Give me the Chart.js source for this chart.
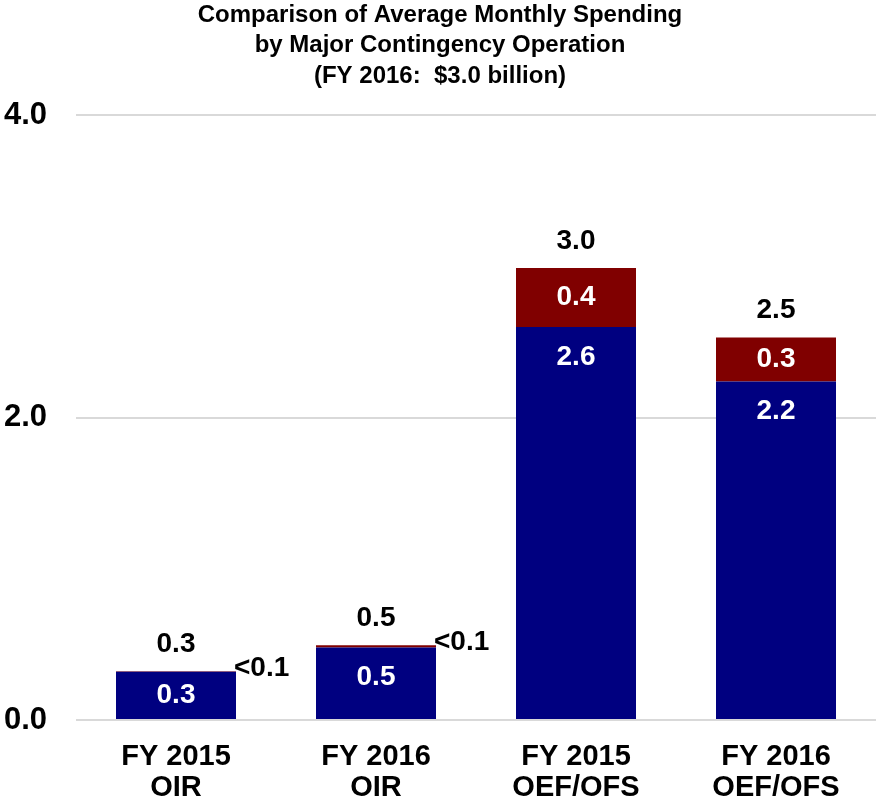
<!DOCTYPE html>
<html>
<head>
<meta charset="utf-8">
<script src="https://cdn.jsdelivr.net/npm/chart.js@4"></script>
<style>
  html, body { margin: 0; padding: 0; background: #fff; }
  #wrap { width: 876px; height: 802px; }
</style>
</head>
<body>
<div id="wrap"><canvas id="spendChart"></canvas></div>
<script>
const categories = [['FY 2015', 'OIR'], ['FY 2016', 'OIR'], ['FY 2015', 'OEF/OFS'], ['FY 2016', 'OEF/OFS']];
const baseValues = [0.32, 0.48, 2.60, 2.24];
const topValues = [0.002, 0.015, 0.39, 0.29];
const baseLabels = ['0.3', '0.5', '2.6', '2.2'];
const topLabels = ['<0.1', '<0.1', '0.4', '0.3'];
const totalLabels = ['0.3', '0.5', '3.0', '2.5'];
const titleLines = ['Comparison of Average Monthly Spending', 'by Major Contingency Operation', '(FY 2016:  $3.0 billion)'];

const FONT = '"Liberation Sans", Arial, sans-serif';

// draws the numbers on and above the bars
const barLabels = {
  id: 'barLabels',
  afterDatasetsDraw(chart) {
    const ctx = chart.ctx;
    const baseMeta = chart.getDatasetMeta(0);
    const topMeta = chart.getDatasetMeta(1);
    ctx.save();
    ctx.font = 'bold 28px ' + FONT;
    ctx.textBaseline = 'middle';
    baseMeta.data.forEach((bar, i) => {
      const seg = topMeta.data[i];
      ctx.textAlign = 'center';
      ctx.fillStyle = '#fff';
      ctx.fillText(baseLabels[i], bar.x, Math.min((bar.y + bar.base) / 2, bar.y + 30));
      const h = seg.base - seg.y;
      if (h > 25) {
        ctx.fillText(topLabels[i], seg.x, (seg.y + seg.base) / 2);
      } else {
        ctx.fillStyle = '#000';
        ctx.textAlign = 'left';
        ctx.fillText(topLabels[i], bar.x + bar.width / 2 - 2, seg.y - 3);
      }
      ctx.fillStyle = '#000';
      ctx.textAlign = 'center';
      ctx.fillText(totalLabels[i], bar.x, seg.y - 27);
    });
    ctx.restore();
  }
};

const ctx = document.getElementById('spendChart').getContext('2d');
const chart = new Chart(ctx, {
  type: 'bar',
  data: {
    labels: categories,
    datasets: [
      { data: baseValues, backgroundColor: '#000080', borderWidth: 0 },
      { data: topValues, backgroundColor: '#800000', borderWidth: 0 }
    ]
  },
  options: {
    responsive: true,
    maintainAspectRatio: false,
    animation: false,
    layout: { padding: { left: 4, right: 0, top: 0, bottom: 0 } },
    datasets: { bar: { categoryPercentage: 1, barPercentage: 0.6 } },
    scales: {
      x: {
        stacked: true,
        afterFit(scale) { scale.height = 82; },
        grid: { display: false, drawTicks: false },
        border: { display: false },
        ticks: {
          color: '#000',
          font: { family: FONT, size: 29, weight: 'bold', lineHeight: 1.05 },
          padding: 22,
          maxRotation: 0
        }
      },
      y: {
        stacked: true,
        min: 0,
        max: 4,
        afterFit(scale) { scale.width = 72; },
        grid: { color: '#d9d9d9', lineWidth: 2, drawTicks: false },
        border: { display: false },
        ticks: {
          stepSize: 2,
          color: '#000',
          crossAlign: 'far',
          font: { family: FONT, size: 31, weight: 'bold' },
          callback: v => v.toFixed(1)
        }
      }
    },
    plugins: {
      legend: { display: false },
      tooltip: { enabled: false },
      title: {
        display: true,
        text: titleLines,
        color: '#000',
        font: { family: FONT, size: 24, weight: 'bold', lineHeight: 1.27 },
        padding: { top: 0, bottom: 24 }
      }
    }
  },
  plugins: [barLabels]
});
</script>
</body>
</html>
